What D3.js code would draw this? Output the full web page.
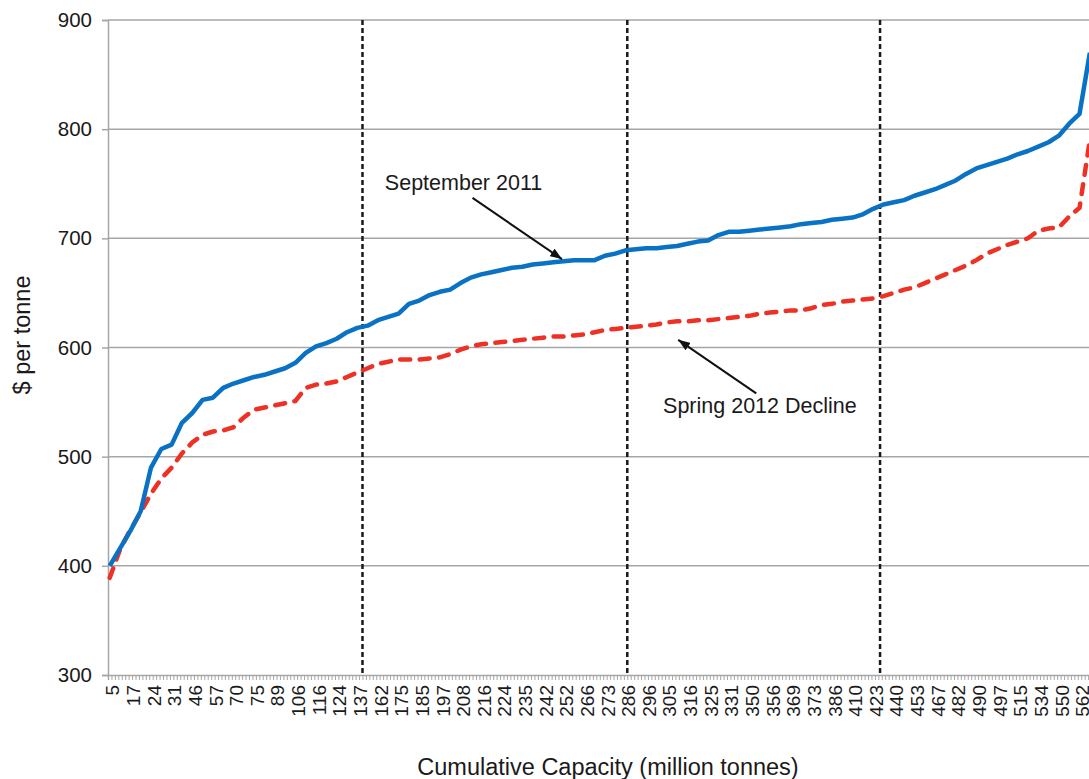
<!DOCTYPE html>
<html>
<head>
<meta charset="utf-8">
<script src="https://cdn.jsdelivr.net/npm/d3@7"></script>
<style>
  body { margin: 0; background: #fff; }
  svg { display: block; font-family: "Liberation Sans", Arial, sans-serif; }
</style>
</head>
<body>
<div id="chart"></div>
<script>
// x-axis labels: cumulative capacity (million tonnes), one every 6 plants
const capacityLabels = [5, 17, 24, 31, 46, 57, 70, 75, 89, 106, 116, 124, 137, 162, 175, 185, 197, 208, 216, 224,
    235, 242, 252, 266, 273, 286, 296, 305, 316, 325, 331, 350, 356, 369, 373, 386, 410, 423, 440, 453,
    467, 482, 490, 497, 515, 534, 550, 562];

// cost ($/tonne), read every 3rd plant along the curve
const september2011 = [400, 416, 432, 450, 490, 507, 511, 531, 540, 552, 554, 563, 567, 570, 573, 575, 578, 581, 586, 595,
    601, 604, 608, 614, 618, 620, 625, 628, 631, 640, 643, 648, 651, 653, 659, 664, 667, 669, 671, 673,
    674, 676, 677, 678, 679, 680, 680, 680, 684, 686, 689, 690, 691, 691, 692, 693, 695, 697, 698, 703,
    706, 706, 707, 708, 709, 710, 711, 713, 714, 715, 717, 718, 719, 722, 727, 731, 733, 735, 739, 742,
    745, 749, 753, 759, 764, 767, 770, 773, 777, 780, 784, 788, 794, 805, 814, 870];

const spring2012 = [389, 415, 433, 449, 466, 480, 490, 503, 513, 520, 523, 524, 527, 536, 543, 545, 547, 549, 551, 563,
    566, 567, 569, 573, 577, 581, 585, 587, 589, 589, 589, 590, 591, 594, 598, 601, 603, 604, 605, 606,
    607, 608, 609, 610, 610, 611, 612, 614, 616, 617, 618, 619, 620, 621, 623, 624, 624, 625, 625, 626,
    627, 628, 629, 631, 632, 633, 634, 634, 636, 639, 640, 642, 643, 644, 645, 647, 650, 653, 655, 659,
    663, 667, 671, 675, 680, 686, 690, 694, 697, 700, 707, 709, 710, 720, 728, 790];

const yTicks = [300, 400, 500, 600, 700, 800, 900];

// dashed dividers, in plant (category) units
const dividerPositions = [74, 151, 224.5];

class SupplyCurveChart {
    constructor(_config) {
        this.config = {
            parentElement: _config.parentElement,
            width: 1089,
            height: 779,
            margin: { top: 20, left: 108, bottom: 104 },
            categoryCount: 290,
            categoryWidth: 3.439,
            labelEvery: 6,
            sampleEvery: 3
        };
        this.initVis();
    }

    initVis() {
        let vis = this;
        const c = vis.config;

        vis.svg = d3.select(c.parentElement).append('svg')
            .attr('width', c.width)
            .attr('height', c.height);

        vis.xScale = d3.scaleLinear()
            .domain([0, c.categoryCount])
            .range([c.margin.left, c.margin.left + c.categoryCount * c.categoryWidth]);

        vis.yScale = d3.scaleLinear()
            .domain([300, 900])
            .range([c.height - c.margin.bottom, c.margin.top]);

        vis.updateVis();
    }

    updateVis() {
        let vis = this;
        const c = vis.config;
        const x = vis.xScale, y = vis.yScale;
        const y0 = y(300);

        // Gridlines
        vis.svg.append('g').selectAll('line')
            .data(yTicks.filter(d => d > 300))
            .join('line')
            .attr('x1', c.margin.left).attr('x2', c.width)
            .attr('y1', d => y(d)).attr('y2', d => y(d))
            .attr('stroke', '#a6a6a6').attr('stroke-width', 1.5);

        // Y axis
        const yAxisG = vis.svg.append('g')
            .attr('transform', `translate(${c.margin.left},0)`)
            .call(d3.axisLeft(y).tickValues(yTicks).tickSize(6).tickPadding(10));
        yAxisG.selectAll('line, path').attr('stroke', '#a6a6a6').attr('stroke-width', 1.5);
        yAxisG.selectAll('text').attr('font-size', 20.5).attr('fill', '#1a1a1a');

        // X axis: a tick at every plant
        const xAxisG = vis.svg.append('g')
            .attr('transform', `translate(0,${y0})`)
            .call(d3.axisBottom(x).tickValues(d3.range(0, c.categoryCount + 1)).tickSize(5).tickFormat(''));
        xAxisG.selectAll('line').attr('stroke', '#a6a6a6').attr('stroke-width', 1);
        xAxisG.select('path').attr('stroke', '#a6a6a6').attr('stroke-width', 1.5);

        // X tick labels
        const labelG = vis.svg.append('g')
            .attr('transform', `translate(0,${y0})`)
            .call(d3.axisBottom(x)
                .tickValues(capacityLabels.map((d, i) => i * c.labelEvery + 1.5))
                .tickSize(0)
                .tickFormat((d, i) => capacityLabels[i]));
        labelG.select('path').remove();
        labelG.selectAll('text')
            .attr('transform', 'rotate(-90)')
            .attr('x', -10).attr('y', 0).attr('dy', '0.3em')
            .style('text-anchor', 'end')
            .attr('font-size', 19).attr('fill', '#1a1a1a');

        // Dividers
        vis.svg.append('g').selectAll('line')
            .data(dividerPositions)
            .join('line')
            .attr('x1', d => x(d)).attr('x2', d => x(d))
            .attr('y1', y(900)).attr('y2', y0)
            .attr('stroke', '#1a1a1a').attr('stroke-width', 2.5)
            .attr('stroke-dasharray', '5,3');

        // Lines
        const line = d3.line()
            .x((d, i) => x(i * c.sampleEvery + 0.5))
            .y(d => y(d));

        vis.svg.append('path')
            .datum(spring2012)
            .attr('fill', 'none')
            .attr('stroke', '#ee3124')
            .attr('stroke-width', 4.5)
            .attr('stroke-linecap', 'round')
            .attr('stroke-dasharray', '10,9.5')
            .attr('d', line);

        vis.svg.append('path')
            .datum(september2011)
            .attr('fill', 'none')
            .attr('stroke', '#0a72c4')
            .attr('stroke-width', 4.5)
            .attr('stroke-linejoin', 'round')
            .attr('d', line);

        // Annotations
        vis.svg.append('defs').append('marker')
            .attr('id', 'arrow')
            .attr('viewBox', '0 0 12 9')
            .attr('markerUnits', 'userSpaceOnUse')
            .attr('markerWidth', 12).attr('markerHeight', 9)
            .attr('refX', 12).attr('refY', 4.5)
            .attr('orient', 'auto')
            .append('path')
            .attr('d', 'M0,0L12,4.5L0,9Z')
            .attr('fill', '#111');

        const notes = [
            { text: 'September 2011', tx: 80.5, tv: 744, from: [106, 737], to: [132, 681] },
            { text: 'Spring 2012 Decline', tx: 161.4, tv: 540, from: [188.5, 558], to: [165.8, 607] }
        ];

        vis.svg.append('g').selectAll('line')
            .data(notes)
            .join('line')
            .attr('x1', d => x(d.from[0])).attr('y1', d => y(d.from[1]))
            .attr('x2', d => x(d.to[0])).attr('y2', d => y(d.to[1]))
            .attr('stroke', '#111').attr('stroke-width', 2)
            .attr('marker-end', 'url(#arrow)');

        vis.svg.append('g').selectAll('text')
            .data(notes)
            .join('text')
            .attr('x', d => x(d.tx)).attr('y', d => y(d.tv))
            .attr('font-size', 21.5).attr('fill', '#1a1a1a')
            .text(d => d.text);

        // Axis titles
        vis.svg.append('text')
            .attr('transform', `translate(30,335) rotate(-90)`)
            .attr('text-anchor', 'middle')
            .attr('font-size', 23.5).attr('fill', '#1a1a1a')
            .text('$ per tonne');

        vis.svg.append('text')
            .attr('x', 608).attr('y', 775)
            .attr('text-anchor', 'middle')
            .attr('font-size', 23.5).attr('fill', '#1a1a1a')
            .text('Cumulative Capacity (million tonnes)');
    }
}

const chart = new SupplyCurveChart({ parentElement: '#chart' });
</script>
</body>
</html>
